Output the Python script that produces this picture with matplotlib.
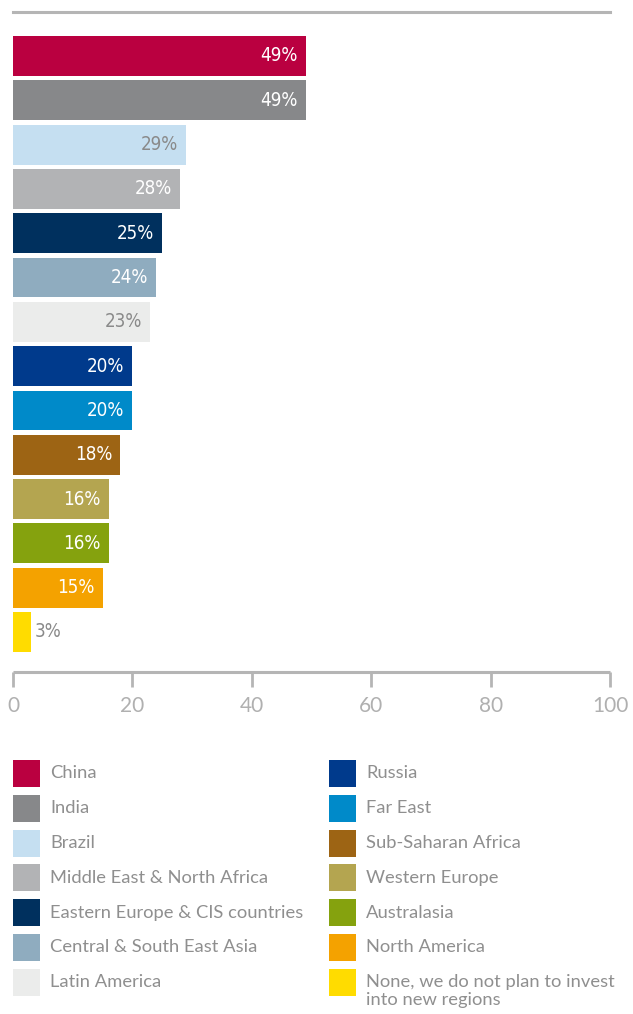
import matplotlib
matplotlib.use("Agg")
import matplotlib.pyplot as plt
from matplotlib.patches import Rectangle
from matplotlib import font_manager

regions = ["China", "India", "Brazil", "Middle East & North Africa",
           "Eastern Europe & CIS countries", "Central & South East Asia",
           "Latin America", "Russia", "Far East", "Sub-Saharan Africa",
           "Western Europe", "Australasia", "North America",
           "None, we do not plan to invest\ninto new regions"]
shares = [49, 49, 29, 28, 25, 24, 23, 20, 20, 18, 16, 16, 15, 3]
colors = ["#BA0040", "#87888A", "#C5DFF1", "#B2B3B5", "#00305E", "#8FACBF",
          "#EBECEB", "#003A8C", "#008AC9", "#9D6414", "#B4A550", "#85A20E",
          "#F4A200", "#FFDC00"]
label_colors = ["white", "white", "#8a8a8a", "white", "white", "white",
                "#8a8a8a", "white", "white", "white", "white", "white",
                "white", "#8a8a8a"]
ticks = [0, 20, 40, 60, 80, 100]

W, H = 633, 1014
grey = "#b5b5b5"
text_grey = "#8f8f8f"

# condensed face for the value labels
cond = font_manager.FontProperties(family="DejaVu Sans", stretch="condensed", size=13.5)

fig = plt.figure(figsize=(W / 100, H / 100), dpi=100)

# bar chart area in pixel terms
left, right, top, bottom = 13, 610, 12, 672
ax = fig.add_axes([left / W, 1 - bottom / H, (right - left) / W, (bottom - top) / H])

n = len(shares)
ys = list(range(n))
ax.barh(ys, shares, height=0.9, color=colors, align="center")
ax.set_xlim(0, 100)
ax.set_ylim(n - 1 + 0.903, -0.993)

for y, v, lc in zip(ys, shares, label_colors):
    if v < 10:
        ax.text(v + 0.7, y, f"{v}%", ha="left", va="center",
                color=lc, fontproperties=cond)
    else:
        ax.text(v - 1.4, y, f"{v}%", ha="right", va="center",
                color=lc, fontproperties=cond)

for s in ["left", "right"]:
    ax.spines[s].set_visible(False)
ax.spines["top"].set_color(grey)
ax.spines["top"].set_linewidth(2.2)
ax.spines["bottom"].set_color(grey)
ax.spines["bottom"].set_linewidth(2.2)
ax.spines["bottom"].set_capstyle("butt")
ax.set_yticks([])
ax.set_xticks(ticks)
ax.tick_params(axis="x", direction="out", length=11, width=2, color=grey,
               labelcolor="#b0b0b0", labelsize=15, pad=6)
for lab in ax.get_xticklabels():
    lab.set_family("Lato")

# legend in two columns
lg = fig.add_axes([0, 0, 1, 1])
lg.set_xlim(0, W)
lg.set_ylim(H, 0)
lg.axis("off")
per_col = 7
for i, (name, c) in enumerate(zip(regions, colors)):
    col, row = divmod(i, per_col)
    x0 = 13 + col * 316
    y0 = 760 + row * 34.8
    lg.add_patch(Rectangle((x0, y0), 27, 27, color=c, lw=0))
    lg.text(x0 + 37, y0 + 5.5, name, ha="left", va="top", color=text_grey,
            fontsize=13.2, family="Lato", linespacing=1.1)

fig.savefig("out.png", dpi=100)
